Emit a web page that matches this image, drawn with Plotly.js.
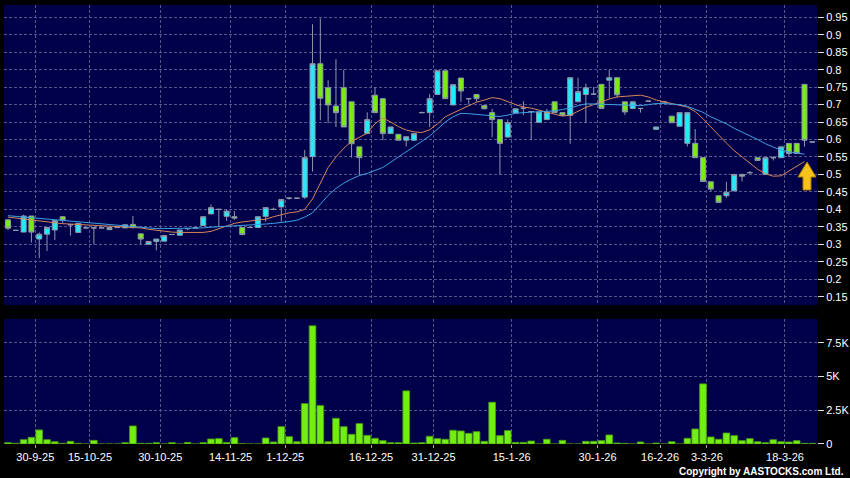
<!DOCTYPE html>
<html>
<head>
<meta charset="utf-8">
<script src="https://cdn.plot.ly/plotly-3.0.1.min.js"></script>
<style>
html,body{margin:0;padding:0;background:#000;}
#chart{width:850px;height:478px;}
</style>
</head>
<body>
<div id="chart"></div>
<script>
// ---- data (one entry per trading session) ----
var openP = [0.370,0.340,0.335,0.381,0.315,0.329,0.341,0.379,0.356,0.334,
0.347,0.347,0.347,0.342,0.348,0.347,0.357,0.330,0.300,0.308,
0.309,0.328,0.326,0.345,0.347,0.354,0.387,0.400,0.380,0.379,
0.348,0.348,0.348,0.380,0.400,0.407,0.432,0.432,0.435,0.551,
0.817,0.748,0.696,0.748,0.708,0.579,0.617,0.727,0.717,0.617,
0.615,0.598,0.598,0.677,0.677,0.729,0.797,0.699,0.776,0.717,
0.729,0.697,0.677,0.657,0.607,0.676,0.690,0.680,0.649,0.657,
0.708,0.677,0.669,0.708,0.729,0.730,0.758,0.770,0.777,0.708,
0.689,0.689,0.710,0.629,0.708,0.667,0.638,0.589,0.589,0.548,
0.479,0.439,0.439,0.453,0.500,0.505,0.548,0.500,0.548,0.548,
0.589,0.589,0.758,0.593];
var highP = [0.372,0.340,0.385,0.381,0.334,0.350,0.370,0.381,0.358,0.360,
0.347,0.347,0.347,0.348,0.348,0.356,0.381,0.330,0.309,0.315,
0.325,0.328,0.341,0.345,0.347,0.379,0.414,0.400,0.400,0.395,
0.348,0.348,0.379,0.405,0.405,0.430,0.435,0.432,0.570,0.930,
0.947,0.770,0.830,0.800,0.708,0.579,0.678,0.750,0.717,0.636,
0.615,0.608,0.617,0.680,0.730,0.797,0.797,0.757,0.776,0.717,
0.729,0.697,0.688,0.657,0.658,0.688,0.710,0.680,0.679,0.688,
0.708,0.677,0.777,0.777,0.760,0.750,0.758,0.800,0.777,0.708,
0.708,0.689,0.710,0.636,0.708,0.667,0.677,0.677,0.630,0.548,
0.479,0.439,0.479,0.500,0.502,0.510,0.548,0.548,0.552,0.579,
0.589,0.589,0.758,0.593];
var lowP = [0.341,0.340,0.335,0.305,0.260,0.281,0.312,0.360,0.325,0.334,
0.347,0.300,0.347,0.342,0.348,0.347,0.345,0.300,0.300,0.283,
0.309,0.328,0.326,0.340,0.347,0.354,0.387,0.350,0.367,0.370,
0.326,0.348,0.348,0.365,0.400,0.365,0.428,0.432,0.430,0.508,
0.655,0.647,0.636,0.636,0.548,0.498,0.617,0.677,0.598,0.617,
0.598,0.580,0.598,0.677,0.636,0.729,0.717,0.699,0.708,0.700,
0.708,0.688,0.607,0.500,0.607,0.676,0.670,0.598,0.649,0.657,
0.677,0.669,0.588,0.708,0.647,0.730,0.689,0.717,0.720,0.670,
0.689,0.677,0.710,0.629,0.708,0.648,0.638,0.580,0.548,0.480,
0.452,0.420,0.433,0.453,0.480,0.505,0.540,0.500,0.540,0.548,
0.550,0.560,0.580,0.593];
var closeP = [0.346,0.340,0.381,0.335,0.329,0.348,0.368,0.368,0.356,0.360,
0.347,0.347,0.347,0.348,0.348,0.356,0.348,0.315,0.308,0.315,
0.325,0.328,0.341,0.345,0.347,0.379,0.405,0.400,0.395,0.375,
0.328,0.348,0.379,0.405,0.400,0.428,0.432,0.432,0.548,0.817,
0.718,0.699,0.677,0.636,0.588,0.548,0.657,0.677,0.617,0.636,
0.598,0.608,0.617,0.677,0.717,0.797,0.717,0.757,0.739,0.717,
0.717,0.688,0.657,0.589,0.648,0.688,0.690,0.680,0.679,0.679,
0.677,0.669,0.777,0.737,0.748,0.730,0.689,0.777,0.728,0.679,
0.708,0.689,0.710,0.636,0.708,0.648,0.677,0.677,0.548,0.480,
0.458,0.420,0.449,0.500,0.495,0.505,0.540,0.548,0.548,0.579,
0.560,0.560,0.598,0.593];
var volume = [100,50,320,495,1040,320,170,50,200,50,
0,270,0,0,0,100,1335,50,50,100,
0,100,0,120,0,100,370,400,120,470,
25,0,0,445,150,1285,545,170,2990,8750,
2845,170,1900,1285,715,1510,640,420,250,100,
100,3930,75,100,570,400,350,1015,965,790,
915,200,3090,620,990,120,120,220,0,350,
0,270,0,0,200,200,250,670,75,50,
0,150,0,75,0,170,0,420,1110,4450,
520,350,815,620,250,400,170,100,320,170,
150,250,50,50];
var maShort = [0.378,0.375,0.372,0.369,0.366,0.363,0.361,0.359,0.358,0.357,
0.356,0.355,0.354,0.353,0.352,0.351,0.350,0.347,0.343,0.340,
0.337,0.335,0.334,0.334,0.334,0.334,0.337,0.345,0.352,0.360,
0.364,0.367,0.369,0.372,0.379,0.385,0.390,0.393,0.400,0.430,
0.475,0.520,0.550,0.575,0.595,0.607,0.618,0.645,0.662,0.650,
0.637,0.627,0.622,0.620,0.628,0.645,0.665,0.676,0.687,0.697,
0.707,0.713,0.720,0.717,0.708,0.700,0.693,0.690,0.684,0.678,
0.672,0.667,0.670,0.682,0.692,0.700,0.709,0.716,0.722,0.724,
0.725,0.727,0.722,0.713,0.708,0.703,0.700,0.693,0.680,0.660,
0.636,0.612,0.590,0.568,0.550,0.532,0.515,0.502,0.495,0.496,
0.510,0.525,0.537,null];
var maLong = [0.382,0.380,0.378,0.376,0.374,0.372,0.370,0.368,0.366,0.364,
0.362,0.360,0.358,0.356,0.354,0.352,0.350,0.348,0.346,0.345,
0.345,0.345,0.345,0.345,0.346,0.347,0.349,0.350,0.352,0.353,
0.355,0.356,0.357,0.358,0.360,0.362,0.365,0.369,0.378,0.390,
0.415,0.440,0.460,0.475,0.487,0.497,0.503,0.512,0.520,0.535,
0.550,0.565,0.580,0.595,0.610,0.630,0.650,0.665,0.675,0.674,
0.672,0.670,0.668,0.666,0.670,0.675,0.677,0.678,0.679,0.680,
0.682,0.686,0.690,0.697,0.702,0.702,0.701,0.700,0.698,0.697,
0.696,0.697,0.700,0.703,0.703,0.702,0.700,0.695,0.687,0.678,
0.665,0.655,0.645,0.632,0.622,0.612,0.600,0.588,0.578,0.569,
0.565,0.562,0.558,null];
var dateLabels = ['30-9-25','15-10-25','30-10-25','14-11-25','1-12-25','16-12-25',
                  '31-12-25','15-1-26','30-1-26','16-2-26','3-3-26','18-3-26'];
var dateTickPos = [3.5,10.5,19.5,28.5,35.5,46.5,54.5,64.5,75.5,83.5,89.5,99.5];
var priceTicks = [0.15,0.2,0.25,0.3,0.35,0.4,0.45,0.5,0.55,0.6,0.65,0.7,0.75,0.8,0.85,0.9,0.95];
var priceTickText = ['0.15','0.2','0.25','0.3','0.35','0.4','0.45','0.5','0.55','0.6','0.65','0.7','0.75','0.8','0.85','0.9','0.95'];
var volTicks = [0,2500,5000,7500];
var volTickText = ['0','2.5K','5K','7.5K'];

// ---- build ----
var idx = openP.map(function(_, i){ return i; });
var NAVY = '#00004a';
var GRID = '#56568c';
var GDASH = '3px,2px';
var FONT = 'Liberation Sans, Arial, sans-serif';

var candles = {
  type:'candlestick', x:idx, open:openP, high:highP, low:lowP, close:closeP,
  xaxis:'x', yaxis:'y',
  increasing:{fillcolor:'#22ecfc', line:{color:'#8c98a8', width:1}},
  decreasing:{fillcolor:'#7aec12', line:{color:'#8c98a8', width:1}},
  whiskerwidth:0, hoverinfo:'skip'
};
var maS = {type:'scatter', mode:'lines', x:idx, y:maShort, xaxis:'x', yaxis:'y',
  line:{color:'#d88558', width:1}, hoverinfo:'skip'};
var maL = {type:'scatter', mode:'lines', x:idx, y:maLong, xaxis:'x', yaxis:'y',
  line:{color:'#3c9fe2', width:1}, hoverinfo:'skip'};
var vol = {type:'bar', x:idx, y:volume, xaxis:'x2', yaxis:'y2', width:0.86,
  marker:{color:'#72ee12', line:{color:'#4a9a10', width:0.8}}, hoverinfo:'skip'};

// arrow decoration (pixel geometry converted to paper coordinates)
function px(v){ return (v-4)/813; }
function py(v){ return (444-v)/439; }
var arrowPath = 'M'+px(807)+','+py(162)+' L'+px(816)+','+py(177)+' L'+px(811)+','+py(177)+
  ' L'+px(811)+','+py(190)+' L'+px(803)+','+py(190)+' L'+px(803)+','+py(177)+
  ' L'+px(798)+','+py(177)+' Z';

var commonX = {range:[-0.51,103.6], tickvals:dateTickPos, showgrid:true, gridcolor:GRID,
  griddash:GDASH, gridwidth:1, zeroline:false, showline:false, fixedrange:true};

var layout = {
  width:850, height:478,
  paper_bgcolor:'#000000', plot_bgcolor:NAVY,
  margin:{l:4, r:33, t:5, b:34},
  showlegend:false, boxgap:0.08,
  font:{family:FONT, color:'#ffffff', size:11},
  xaxis:Object.assign({}, commonX, {domain:[0,1], anchor:'y', showticklabels:false,
    ticks:'', rangeslider:{visible:false}}),
  yaxis:{domain:[0.31663,1], range:[0.1262,0.9852], side:'right', anchor:'x',
    tickvals:priceTicks, ticktext:priceTickText, ticks:'outside', ticklen:6, tickcolor:'#dddddd',
    tickfont:{color:'#ffffff', size:11, family:FONT}, showgrid:true, gridcolor:GRID,
    griddash:GDASH, zeroline:false, showline:false, fixedrange:true},
  xaxis2:Object.assign({}, commonX, {domain:[0,1], anchor:'y2', ticktext:dateLabels,
    ticks:'outside', ticklen:3, tickcolor:'#aaaaaa',
    tickfont:{color:'#ffffff', size:11, family:FONT}}),
  yaxis2:{domain:[0,0.28474], range:[0,9250], side:'right', anchor:'x2',
    tickvals:volTicks, ticktext:volTickText, ticks:'outside', ticklen:6, tickcolor:'#dddddd',
    tickfont:{color:'#ffffff', size:11, family:FONT}, showgrid:true, gridcolor:GRID,
    griddash:GDASH, zeroline:false, showline:false, fixedrange:true},
  shapes:[{type:'path', xref:'paper', yref:'paper', path:arrowPath,
    fillcolor:'#f6c21c', line:{color:'#b07a00', width:1}}],
  annotations:[{text:'<b>Copyright by AASTOCKS.com Ltd.</b>', xref:'paper', yref:'paper',
    x:px(846), y:py(471), xanchor:'right', yanchor:'middle', showarrow:false,
    font:{color:'#ffffff', size:10, family:FONT}}]
};

Plotly.newPlot('chart', [vol, candles, maS, maL], layout, {staticPlot:true, displayModeBar:false});
</script>
</body>
</html>
